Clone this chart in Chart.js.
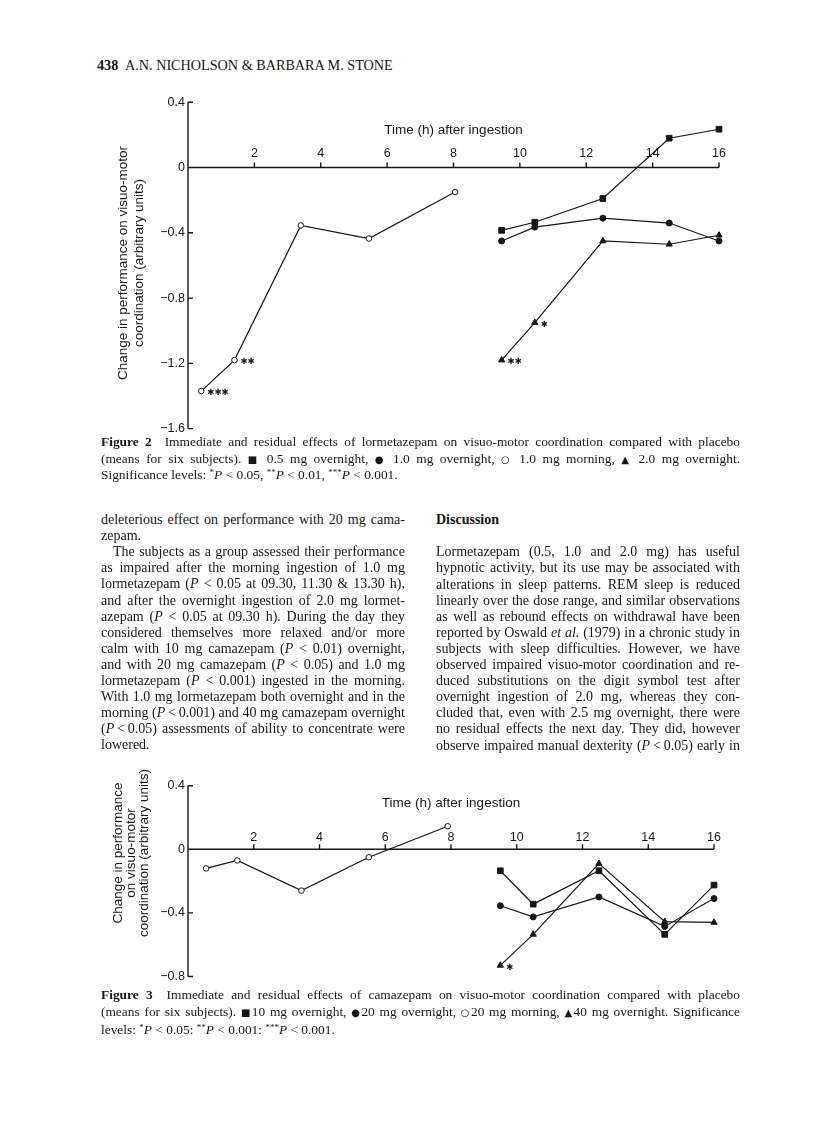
<!DOCTYPE html>
<html>
<head>
<meta charset="utf-8">
<script src="https://cdn.jsdelivr.net/npm/chart.js@4.4.0/dist/chart.umd.min.js"></script>
<style>
  body { margin: 0; background: #fff; }
  #page { position: relative; width: 816px; height: 1146px; overflow: hidden;
          font-family: "Liberation Serif", "Times New Roman", serif; color: #161616; }
  .ln { position: absolute; white-space: nowrap; font-size: 14px; line-height: 16px;
        text-align: justify; text-align-last: justify; }
  .ln.last { text-align: left; text-align-last: left; }
  .cap { font-size: 13.4px; }
  .hdr { font-size: 14.2px; }
  .sym { font-family: "DejaVu Sans", sans-serif; font-size: 10px; }
  sup { font-size: 9px; line-height: 0; vertical-align: 4px; }
  canvas { position: absolute; }
</style>
</head>
<body>
<div id="page">
  <canvas id="fig2" width="650" height="350" style="left:100px;top:90px"></canvas>
  <canvas id="fig3" width="650" height="252" style="left:100px;top:740px"></canvas>
</div>
<script>
// ---------- Figure 2 : lormetazepam ----------
const fig2MorningHours = [0.4, 1.4, 3.4, 5.45, 8.05];
const fig2NightHours = [9.45, 10.45, 12.5, 14.5, 16];
const fig2Morning10 = [-1.37, -1.18, -0.355, -0.435, -0.15];  // O 1.0 mg morning
const fig2Night05 = [-0.385, -0.335, -0.19, 0.18, 0.235];     // square 0.5 mg overnight
const fig2Night10 = [-0.45, -0.365, -0.31, -0.34, -0.45];     // dot 1.0 mg overnight
const fig2Night20 = [-1.18, -0.95, -0.45, -0.47, -0.415];     // triangle 2.0 mg overnight
const fig2MorningSig = ['***', '**', '', '', ''];
const fig2Night20Sig = ['**', '*', '', '', ''];
const fig2YTicks = [0.4, 0, -0.4, -0.8, -1.2, -1.6];

// ---------- Figure 3 : camazepam ----------
const fig3MorningHours = [0.55, 1.5, 3.45, 5.5, 7.9];
const fig3NightHours = [9.5, 10.5, 12.5, 14.5, 16];
const fig3Morning20 = [-0.12, -0.07, -0.26, -0.05, 0.145];    // O 20 mg morning
const fig3Night10 = [-0.135, -0.345, -0.135, -0.535, -0.225]; // square 10 mg overnight
const fig3Night20 = [-0.355, -0.425, -0.3, -0.485, -0.31];    // dot 20 mg overnight
const fig3Night40 = [-0.73, -0.535, -0.09, -0.455, -0.46];    // triangle 40 mg overnight
const fig3Night40Sig = ['*', '', '', '', ''];
const fig3YTicks = [0.4, 0, -0.4, -0.8];

const hourTicks = [2, 4, 6, 8, 10, 12, 14, 16];
const xTitle = 'Time (h) after ingestion';
const fig2YTitle = ['Change in performance on visuo-motor', 'coordination (arbitrary units)'];
const fig3YTitle = ['Change in performance', 'on visuo-motor', 'coordination (arbitrary units)'];

const ink = '#161616';
const sans = '"Liberation Sans", Arial, sans-serif';

function fmt(v) {
  if (v === 0) return '0';
  return (v < 0 ? '\u2212' : '') + Math.abs(v).toFixed(1);
}

// axis lines, inward ticks, hour labels, titles and significance stars
const axisDecor = {
  id: 'axisDecor',
  afterDatasetsDraw(chart, args, o) {
    const {ctx, chartArea: a, scales: {x, y}} = chart;
    const y0 = y.getPixelForValue(0);
    ctx.save();
    ctx.strokeStyle = ink;
    ctx.fillStyle = ink;
    ctx.lineWidth = 1.4;
    ctx.beginPath();
    ctx.moveTo(a.left, a.top);
    ctx.lineTo(a.left, a.bottom);
    ctx.moveTo(a.left, y0);
    ctx.lineTo(x.getPixelForValue(16), y0);
    y.ticks.forEach(t => {
      const py = y.getPixelForValue(t.value);
      ctx.moveTo(a.left, py);
      ctx.lineTo(a.left + 5, py);
    });
    hourTicks.forEach(h => {
      const px = x.getPixelForValue(h);
      ctx.moveTo(px, y0);
      ctx.lineTo(px, y0 - 5);
    });
    ctx.stroke();

    ctx.textAlign = 'center';
    ctx.textBaseline = 'middle';
    ctx.font = '12.5px ' + sans;
    hourTicks.forEach(h => ctx.fillText(String(h), x.getPixelForValue(h), y0 - o.labelGap));
    ctx.font = '13.5px ' + sans;
    ctx.fillText(xTitle, x.getPixelForValue(8), y0 - o.titleGap);

    o.yTitle.forEach((line, i) => {
      ctx.save();
      ctx.translate(a.left - o.yTitleOff[i], o.yTitleMid);
      ctx.rotate(-Math.PI / 2);
      ctx.fillText(line, 0, 0);
      ctx.restore();
    });

    ctx.textAlign = 'left';
    ctx.font = '8.5px "DejaVu Sans", sans-serif';
    chart.data.datasets.forEach((ds, i) => {
      if (!ds.sig) return;
      chart.getDatasetMeta(i).data.forEach((pt, j) => {
        if (ds.sig[j]) ctx.fillText(ds.sig[j].replace(/\*/g, '\u2731'), pt.x + 6, pt.y + 2);
      });
    });
    ctx.restore();
  }
};

function series(hours, values, style, radius, fill, sig) {
  return {
    data: hours.map((h, i) => ({x: h, y: values[i]})),
    borderColor: ink, borderWidth: 1.2, tension: 0, clip: false,
    pointStyle: style, pointRadius: radius, pointBackgroundColor: fill,
    pointBorderColor: ink, pointBorderWidth: 1, sig: sig
  };
}

function makeFigure(id, spec) {
  new Chart(document.getElementById(id), {
    type: 'line',
    data: {datasets: spec.datasets},
    options: {
      responsive: false, animation: false, events: [],
      layout: {padding: spec.padding},
      plugins: {legend: {display: false}, tooltip: {enabled: false}, axisDecor: spec.decor},
      scales: {
        x: {type: 'linear', display: false, min: 0, max: 16},
        y: {
          min: spec.yTicks[spec.yTicks.length - 1], max: spec.yTicks[0],
          afterFit: s => { s.width = 88; },
          afterBuildTicks: s => { s.ticks = spec.yTicks.map(v => ({value: v})); },
          grid: {display: false, drawTicks: false},
          border: {display: false},
          ticks: {padding: 3, color: ink, font: {family: sans, size: 12.5}, callback: v => fmt(v)}
        }
      }
    },
    plugins: [axisDecor]
  });
}

makeFigure('fig2', {
  yTicks: fig2YTicks,
  padding: {top: 12.3, bottom: 11.4, left: 0, right: 31},
  decor: {labelGap: 14, titleGap: 37, yTitle: fig2YTitle, yTitleOff: [65, 48.5], yTitleMid: 173},
  datasets: [
    series(fig2MorningHours, fig2Morning10, 'circle', 2.8, '#fff', fig2MorningSig),
    series(fig2NightHours, fig2Night05, 'rect', 4, ink, null),
    series(fig2NightHours, fig2Night10, 'circle', 3, ink, null),
    series(fig2NightHours, fig2Night20, 'triangle', 3.6, ink, fig2Night20Sig)
  ]
});

makeFigure('fig3', {
  yTicks: fig3YTicks,
  padding: {top: 45.7, bottom: 15.5, left: 0, right: 36},
  decor: {labelGap: 12, titleGap: 46, yTitle: fig3YTitle, yTitleOff: [70, 57, 43.5], yTitleMid: 113},
  datasets: [
    series(fig3MorningHours, fig3Morning20, 'circle', 2.8, '#fff', null),
    series(fig3NightHours, fig3Night10, 'rect', 4, ink, null),
    series(fig3NightHours, fig3Night20, 'circle', 3, ink, null),
    series(fig3NightHours, fig3Night40, 'triangle', 3.6, ink, fig3Night40Sig)
  ]
});

// ---------- page text ----------
const page = document.getElementById('page');
function put(html, left, top, width, cls) {
  const d = document.createElement('div');
  d.className = 'ln ' + (cls || '');
  d.style.left = left + 'px';
  d.style.top = top + 'px';
  if (width) d.style.width = width + 'px';
  d.innerHTML = html;
  page.appendChild(d);
}

put('<b>438</b>', 97, 57, 0, 'last hdr');
put('A.N. NICHOLSON &amp; BARBARA M. STONE', 125, 57, 0, 'last hdr');

const cap2 = [
  '<b>Figure 2</b>&ensp; Immediate and residual effects of lormetazepam on visuo-motor coordination compared with placebo',
  '(means for six subjects). <span class="sym">&#9632;</span> 0.5 mg overnight, <span class="sym">&#9679;</span> 1.0 mg overnight, <span class="sym">&#9675;</span> 1.0 mg morning, <span class="sym">&#9650;</span> 2.0 mg overnight.',
  'Significance levels: <sup>*</sup><i>P</i> &lt; 0.05, <sup>**</sup><i>P</i> &lt; 0.01, <sup>***</sup><i>P</i> &lt; 0.001.'
];
const cap3 = [
  '<b>Figure 3</b>&ensp; Immediate and residual effects of camazepam on visuo-motor coordination compared with placebo',
  '(means for six subjects). <span class="sym">&#9632;</span>10 mg overnight, <span class="sym">&#9679;</span>20 mg overnight, <span class="sym">&#9675;</span>20 mg morning, <span class="sym">&#9650;</span>40 mg overnight. Significance',
  'levels: <sup>*</sup><i>P</i> &lt; 0.05: <sup>**</sup><i>P</i> &lt; 0.001: <sup>***</sup><i>P</i> &lt; 0.001.'
];
cap2.forEach((t, i) => put(t, 101, 434 + i * 16.6, 639, 'cap' + (i === 2 ? ' last' : '')));
cap3.forEach((t, i) => put(t, 101, 987 + i * 17.3, 639, 'cap' + (i === 2 ? ' last' : '')));

const leftCol = [
  'deleterious effect on performance with 20 mg cama-',
  'zepam.',
  'The subjects as a group assessed their performance',
  'as impaired after the morning ingestion of 1.0 mg',
  'lormetazepam (<i>P</i> &lt; 0.05 at 09.30, 11.30 &amp; 13.30 h),',
  'and after the overnight ingestion of 2.0 mg lormet-',
  'azepam (<i>P</i> &lt; 0.05 at 09.30 h). During the day they',
  'considered themselves more relaxed and/or more',
  'calm with 10 mg camazepam (<i>P</i> &lt; 0.01) overnight,',
  'and with 20 mg camazepam (<i>P</i> &lt; 0.05) and 1.0 mg',
  'lormetazepam (<i>P</i> &lt; 0.001) ingested in the morning.',
  'With 1.0 mg lormetazepam both overnight and in the',
  'morning (<i>P</i>&thinsp;&lt;&thinsp;0.001) and 40 mg camazepam overnight',
  '(<i>P</i>&thinsp;&lt;&thinsp;0.05) assessments of ability to concentrate were',
  'lowered.'
];
leftCol.forEach((t, i) => {
  const indent = i === 2 ? 12 : 0;
  put(t, 101 + indent, 512 + i * 16.1, 304 - indent, (i === 1 || i === 14) ? 'last' : '');
});

put('<b>Discussion</b>', 436, 512, 0, 'last');
const rightCol = [
  'Lormetazepam (0.5, 1.0 and 2.0 mg) has useful',
  'hypnotic activity, but its use may be associated with',
  'alterations in sleep patterns. REM sleep is reduced',
  'linearly over the dose range, and similar observations',
  'as well as rebound effects on withdrawal have been',
  'reported by Oswald <i>et al.</i> (1979) in a chronic study in',
  'subjects with sleep difficulties. However, we have',
  'observed impaired visuo-motor coordination and re-',
  'duced substitutions on the digit symbol test after',
  'overnight ingestion of 2.0 mg, whereas they con-',
  'cluded that, even with 2.5 mg overnight, there were',
  'no residual effects the next day. They did, however',
  'observe impaired manual dexterity (<i>P</i>&thinsp;&lt;&thinsp;0.05) early in'
];
rightCol.forEach((t, i) => put(t, 436, 544.3 + i * 16.1, 304, ''));
</script>
</body>
</html>
